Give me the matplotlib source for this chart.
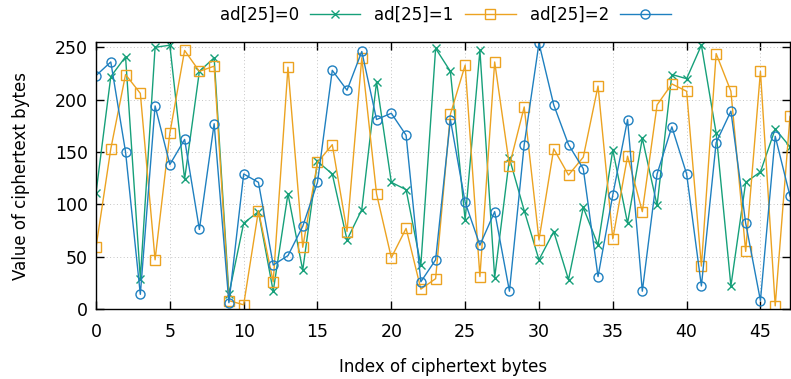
#!/usr/bin/env python3
"""
Ciphertext byte values for three ad[25] settings (gnuplot-like style).
"""

import numpy as np
import matplotlib
matplotlib.use('Agg')
import matplotlib.pyplot as plt

# Byte values, index 0..47
ad0 = [111, 222, 241, 29, 250, 252, 124, 227, 240, 14, 82, 93,
       17, 110, 37, 141, 129, 66, 95, 217, 121, 114, 42, 249,
       227, 85, 247, 30, 144, 94, 47, 74, 28, 97, 61, 152,
       82, 163, 99, 224, 220, 252, 168, 22, 121, 131, 172, 155]
ad1 = [59, 153, 224, 206, 47, 168, 247, 227, 232, 8, 4, 94,
       26, 231, 59, 140, 157, 74, 240, 110, 49, 77, 19, 29,
       186, 233, 31, 236, 137, 193, 66, 153, 128, 145, 213, 67,
       146, 93, 195, 215, 208, 41, 244, 208, 55, 227, 3, 184]
ad2 = [223, 236, 150, 14, 194, 138, 162, 76, 177, 6, 129, 121,
       42, 51, 79, 121, 228, 209, 246, 181, 187, 166, 26, 47,
       181, 102, 61, 93, 17, 157, 254, 195, 157, 134, 31, 109,
       181, 17, 129, 174, 129, 22, 159, 189, 82, 8, 165, 108]

labels = ['ad[25]=0', 'ad[25]=1', 'ad[25]=2']
colors = ['#16a07a', '#eca321', '#1f80c0']
markers = ['x', 's', 'o']

idx = np.arange(len(ad0))

fig = plt.figure(figsize=(7.91, 3.79), dpi=100)
ax = fig.add_axes([0.1214, 0.1847, 0.8773, 0.7043])

for vals, lab, col, mk in zip([ad0, ad1, ad2], labels, colors, markers):
    ax.plot(idx, vals, color=col, linewidth=1.0, marker=mk,
            markersize=6.5 if mk != 'x' else 6,
            markerfacecolor='none', markeredgecolor=col,
            markeredgewidth=1.0, label=lab)

ax.set_xlim(0, 47)
ax.set_ylim(0, 255)
ax.set_xticks(range(0, 47, 5))
ax.set_yticks(range(0, 251, 50))
ax.tick_params(direction='in', top=True, right=True, length=6,
               labelsize=12.5, width=1)
ax.tick_params(axis='x', pad=10)
ax.tick_params(axis='y', pad=5.7)
ax.grid(True, linestyle=(0, (1, 2.5)), color='#c4c4c4', linewidth=0.7)
for s in ax.spines.values():
    s.set_linewidth(1.0)

ax.set_xlabel('Index of ciphertext bytes', fontsize=12, labelpad=12.5)
ax.set_ylabel('Value of ciphertext bytes', fontsize=12, labelpad=18)

ax.legend(loc='center', bbox_to_anchor=(0.503, 1.101), ncol=3,
          frameon=False, markerfirst=False, fontsize=12,
          handlelength=3.05, handletextpad=0.66, columnspacing=0.84,
          borderaxespad=0.0)

plt.savefig('out.png', dpi=100)
